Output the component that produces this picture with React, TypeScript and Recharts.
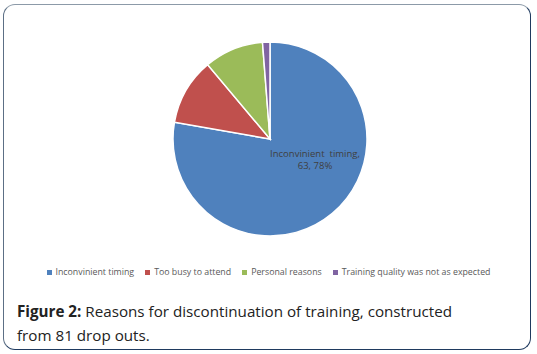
import { Cell, Legend, Pie, PieChart } from "recharts";

const reasons = [
  "Inconvinient timing",
  "Too busy to attend",
  "Personal reasons",
  "Training quality was not as expected",
];
const counts = [63, 9, 8, 1];
const colors = ["#4f81bd", "#c0504d", "#9bbb59", "#8064a2"];

const data = reasons.map((name, i) => ({ name, value: counts[i] }));
const total = counts.reduce((a, b) => a + b, 0);

function BlueLabel(props: any) {
  const { cx, cy, index, value } = props;
  if (index !== 0) return null;
  const pct = Math.round((value / total) * 100);
  return (
    <text
      x={cx + 45}
      y={cy + 18}
      textAnchor="middle"
      fill="#404040"
      fontSize={9.5}
      fontFamily="'Open Sans', sans-serif"
    >
      <tspan x={cx + 45}>Inconvinient{"\u00a0\u00a0"}timing,</tspan>
      <tspan x={cx + 45} dy={12}>
        {value}, {pct}%
      </tspan>
    </text>
  );
}

function LegendRow() {
  return (
    <div
      style={{
        display: "flex",
        justifyContent: "center",
        gap: 11,
        fontSize: 8.8,
        color: "#595959",
        fontFamily: "'Open Sans', sans-serif",
      }}
    >
      {reasons.map((r, i) => (
        <span key={r} style={{ display: "flex", alignItems: "center" }}>
          <span
            style={{
              width: 5,
              height: 5,
              background: colors[i],
              marginRight: 4,
              display: "inline-block",
            }}
          />
          {r}
        </span>
      ))}
    </div>
  );
}

export default function App() {
  return (
    <div
      style={{
        position: "absolute",
        left: 0,
        top: 0,
        width: 537,
        height: 354,
        background: "#fff",
        fontFamily: "'Open Sans', sans-serif",
      }}
    >
      <div
        style={{
          position: "absolute",
          left: 3,
          top: 4,
          width: 526,
          height: 344,
          borderRadius: 12,
          borderTop: "1.5px solid #8c9aa8",
          borderLeft: "1.5px solid #5c6f85",
          borderRight: "1.5px solid #1f3a5f",
          borderBottom: "1.5px solid #1f3a5f",
        }}
      />
      <div style={{ position: "absolute", left: 0, top: 0 }}>
        <PieChart width={537} height={290} margin={{ top: 0, right: 0, bottom: 0, left: 0 }}>
          <Pie
            data={data}
            dataKey="value"
            nameKey="name"
            cx={270}
            cy={139}
            outerRadius={97}
            startAngle={90}
            endAngle={-270}
            stroke="#fff"
            strokeWidth={1.5}
            label={BlueLabel}
            labelLine={false}
            isAnimationActive={false}
          >
            {data.map((d, i) => (
              <Cell key={d.name} fill={colors[i]} />
            ))}
          </Pie>
          <Legend
            content={LegendRow}
            wrapperStyle={{ top: 266, left: 0, width: 537 }}
          />
        </PieChart>
      </div>
      <div
        style={{
          position: "absolute",
          left: 17,
          top: 299,
          width: 510,
          fontSize: 15.2,
          lineHeight: "24px",
          color: "#222",
        }}
      >
        <b>Figure 2:</b> Reasons for discontinuation of training, constructed
        <br />
        from 81 drop outs.
      </div>
    </div>
  );
}
